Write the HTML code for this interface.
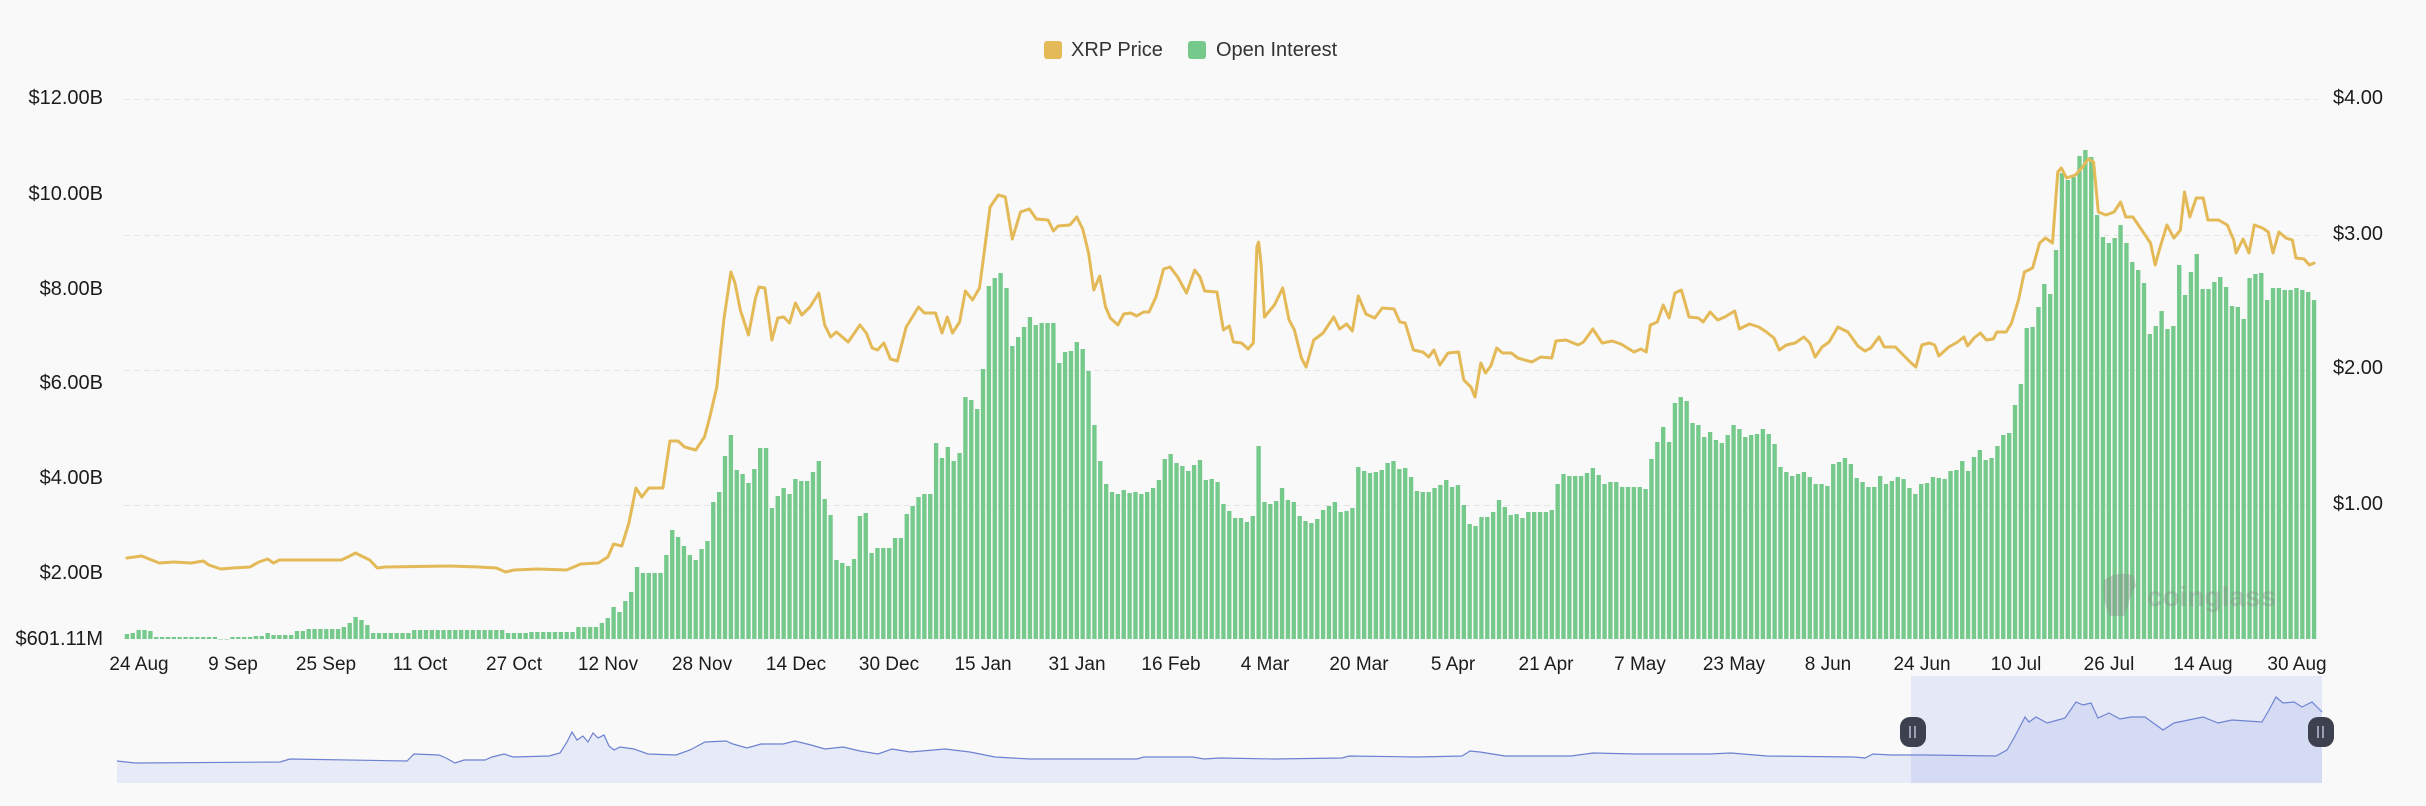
<!DOCTYPE html>
<html><head><meta charset="utf-8"><style>
html,body{margin:0;padding:0;background:#f9f9f9;}
svg{display:block;}
text{font-family:"Liberation Sans",Arial,sans-serif;}
</style></head><body>
<svg id="c" width="2426" height="806" viewBox="0 0 2426 806" xmlns="http://www.w3.org/2000/svg">
<rect x="0" y="0" width="2426" height="806" fill="#f9f9f9"/>
<g stroke="#e4e4e4" stroke-width="1" stroke-dasharray="6 4">
<line x1="124" y1="99.5" x2="2317" y2="99.5"/>
<line x1="124" y1="235.5" x2="2317" y2="235.5"/>
<line x1="124" y1="370.5" x2="2317" y2="370.5"/>
<line x1="124" y1="505.5" x2="2317" y2="505.5"/>
</g>
<g id="bars" fill="#74c98b"></g>
<g opacity="0.35">
<path d="M2104 580 q14 -10 30 -4 l2 10 q-6 8 -8 20 l-4 10 h-14 q-8 -14 -6 -36z" fill="#8a8a8a"/>
<text x="2147" y="606" font-size="28" font-weight="bold" fill="#8a8a8a">coinglass</text>
</g>
<polyline id="price" fill="none" stroke="#e4b957" stroke-width="3" stroke-linejoin="round" stroke-linecap="round" points=""/>
<g font-size="20" fill="#1c1c1c" text-anchor="end">
<text x="103" y="104">$12.00B</text>
<text x="103" y="200">$10.00B</text>
<text x="103" y="295">$8.00B</text>
<text x="103" y="389">$6.00B</text>
<text x="103" y="484">$4.00B</text>
<text x="103" y="579">$2.00B</text>
<text x="103" y="645">$601.11M</text>
</g>
<g font-size="20" fill="#1c1c1c">
<text x="2333" y="104">$4.00</text>
<text x="2333" y="240">$3.00</text>
<text x="2333" y="374">$2.00</text>
<text x="2333" y="510">$1.00</text>
</g>
<g font-size="19" fill="#1c1c1c" text-anchor="middle">
<text x="139" y="670">24 Aug</text>
<text x="233" y="670">9 Sep</text>
<text x="326" y="670">25 Sep</text>
<text x="420" y="670">11 Oct</text>
<text x="514" y="670">27 Oct</text>
<text x="608" y="670">12 Nov</text>
<text x="702" y="670">28 Nov</text>
<text x="796" y="670">14 Dec</text>
<text x="889" y="670">30 Dec</text>
<text x="983" y="670">15 Jan</text>
<text x="1077" y="670">31 Jan</text>
<text x="1171" y="670">16 Feb</text>
<text x="1265" y="670">4 Mar</text>
<text x="1359" y="670">20 Mar</text>
<text x="1453" y="670">5 Apr</text>
<text x="1546" y="670">21 Apr</text>
<text x="1640" y="670">7 May</text>
<text x="1734" y="670">23 May</text>
<text x="1828" y="670">8 Jun</text>
<text x="1922" y="670">24 Jun</text>
<text x="2016" y="670">10 Jul</text>
<text x="2109" y="670">26 Jul</text>
<text x="2203" y="670">14 Aug</text>
<text x="2297" y="670">30 Aug</text>
</g>
<rect x="1044" y="41" width="18" height="18" rx="3" fill="#e4b957"/>
<text x="1071" y="56" font-size="20" fill="#333">XRP Price</text>
<rect x="1188" y="41" width="18" height="18" rx="3" fill="#74c98b"/>
<text x="1216" y="56" font-size="20" fill="#333">Open Interest</text>
<polygon id="navfill" fill="#e7eaf7" points=""/>
<polyline id="navline" fill="none" stroke="#6c82d0" stroke-width="1.2" points=""/>
<rect x="1911" y="676" width="411" height="107" fill="#7d92e6" fill-opacity="0.16"/>
<g>
<rect x="1900" y="717" width="26" height="30" rx="10" fill="#3c404f"/>
<rect x="1909" y="726" width="2" height="12" fill="#9aa0b3"/>
<rect x="1914" y="726" width="2" height="12" fill="#9aa0b3"/>
<rect x="2308" y="717" width="26" height="30" rx="10" fill="#3c404f"/>
<rect x="2317" y="726" width="2" height="12" fill="#9aa0b3"/>
<rect x="2322" y="726" width="2" height="12" fill="#9aa0b3"/>
</g>
</svg>
<script>
(function(){
var N=374, X0=124, CW=(2317-124)/374, BASE=639;
var oi=[0,634,1,633,2,630,3,630,4,631,5,637,15,637,16,639,17,639,18,637,21,637,22,636,23,636,24,633,25,635,28,635,29,631,30,631,31,629,36,629,37,627,38,623,39,617,40,620,41,625,42,633,48,633,49,630,64,630,65,633,68,633,69,632,76,632,77,627,80,627,81,623,82,618,83,607,84,612,85,601,86,592,87,567,88,573,91,573,92,555,93,530,94,537,95,546,96,555,97,560,98,549,99,541,100,502,101,492,102,456,103,435,104,470,105,474,106,483,107,469,108,448,109,448,110,508,111,496,112,488,113,494,114,479,115,481,116,481,117,472,118,461,119,499,120,515,121,560,122,563,123,566,124,559,125,516,126,513,127,553,128,548,130,548,131,538,132,538,133,514,134,506,135,497,136,494,137,494,138,443,139,458,140,447,141,461,142,453,143,397,144,400,145,409,146,369,147,286,148,278,149,273,150,288,151,346,152,337,153,327,154,317,155,325,156,323,158,323,159,363,160,352,161,351,162,342,163,349,164,371,165,425,166,461,167,484,168,492,169,494,170,490,171,493,172,492,173,494,174,492,175,488,176,480,177,459,178,454,179,463,180,466,181,471,182,465,183,460,184,480,185,479,186,482,187,504,188,511,189,518,190,518,191,522,192,516,193,446,194,502,195,504,196,501,197,488,198,500,199,502,200,516,201,521,202,523,203,519,204,510,205,506,206,502,207,512,208,511,209,508,210,467,211,471,212,473,213,472,214,470,215,463,216,461,217,469,218,468,219,477,220,491,221,492,222,492,223,488,224,485,225,480,226,487,227,485,228,505,229,524,230,526,231,517,232,517,233,512,234,500,235,507,236,515,237,514,238,518,239,512,242,512,243,510,244,484,245,474,246,476,248,476,249,473,250,468,251,475,252,484,253,482,254,482,255,487,258,487,259,489,260,459,261,442,262,427,263,442,264,403,265,397,266,401,267,423,268,425,269,437,270,432,271,440,272,443,273,435,274,425,275,429,276,437,277,435,278,434,279,429,280,434,281,444,282,467,283,472,284,476,285,474,286,472,287,477,288,484,289,484,290,486,291,464,292,462,293,458,294,464,295,478,296,482,297,487,298,487,299,476,300,484,301,481,302,477,303,479,304,488,305,494,306,484,307,483,308,477,309,478,310,479,311,471,312,470,313,461,314,471,315,457,316,450,317,460,318,458,319,446,320,435,321,433,322,405,323,384,324,328,325,327,326,307,327,284,328,294,329,250,330,173,331,180,332,177,333,156,334,150,335,157,336,215,337,237,338,243,339,238,340,225,341,243,342,262,343,270,344,283,345,334,346,326,347,311,348,329,349,326,350,265,351,295,352,272,353,254,354,289,355,289,356,282,357,277,358,287,359,306,360,307,361,319,362,278,363,274,364,273,365,300,366,288,367,288,368,290,369,290,370,288,371,290,372,292,373,300];
var pr=[0,558,2.5,556,5.5,563,8,562,11,563,13,561,14,565,16,569,18,568,21,567,22.5,562,24,559,25,563,26,560,36.6,560,38,556,39,553,40,556,41.4,560,42.7,568,44,567,55,566,60,567,63,568,64.6,572,66,570,70,569,75,570,77.4,564,80.4,563,82,557,83,544,84.4,546,85.6,523,86.8,488,87.8,497,89,488,91.4,488,92.6,441,94,441,95.1,447,97,450,98.5,437,99.4,417,100.6,387,101.8,320,103,272,103.7,283,104.6,310,106,335,107.2,298,107.8,287,108.8,288,110,340,111,318,112,317,113,323,114,303,115.1,315,116.5,307,118,293,119,325,120,337,121,332,123,342,125,325,126.1,333,127.1,348,128,350,129.1,343,130.2,359,131.4,361,132.9,327,135,307,136,313,137.9,313,139,333,139.9,317,140.8,333,142,322,143,291,144.2,300,145.4,288,146.4,243,147.2,207,148.6,195,149.8,197,151,239,152.4,212,153.9,209,155.1,219,157.1,220,158,231,158.8,226,160.8,225,162,217,163,229,164,253,164.9,290,165.9,276,166.9,307,167.7,318,169,325,170,314,171.2,313,172.2,316,173.4,312,174.3,312,175.5,297,176.8,269,177.9,267,179.2,277,180.7,293,182.1,270,183,277,183.8,291,185.9,292,187,330,188,326,188.7,342,190.1,343,191.2,349,192.1,343,192.7,247,193,242,193.4,263,194,317,195.7,305,197.1,288,198.2,320,199.1,330,200.3,358,201.1,367,202.4,340,204,333,205.8,317,206.8,329,208,324,209,331,210,296,211.3,314,212.8,318,214.1,308,216.1,309,217.1,322,218,323,219.4,350,221,352,222,357,222.9,350,223.9,365,225.3,353,227.1,352,228,380,229.2,387,229.9,397,230.9,363,231.7,373,232.6,366,233.6,348,234.6,353,236.1,353,237.2,358,239.6,362,241.1,357,243,358,243.7,341,245.4,340,247.5,345,248.4,342,250,329,251.6,343,253.3,341,254.8,344,257,352,258.2,349,259.1,352,259.8,325,261,322,262,305,263,318,264,293,265.1,290,266.4,317,268,318,268.8,322,270,312,271.3,320,272.5,317,274.2,311,275,329,276.7,324,278.3,327,279.6,332,280.9,338,281.8,350,283,345,284.5,343,286,337,287,343,287.9,357,289.1,347,290.3,342,291.8,327,293.5,332,295.2,346,296.4,351,297.4,348,298.8,337,299.7,347,301.6,347,303.1,356,304.3,363,305.1,367,306.1,345,307.4,343,308.3,345,309,356,310.7,347,312.2,342,313.3,337,313.9,346,315,338,316.1,333,317.1,340,318.3,339,318.9,332,320.5,332,321.4,323,322.6,300,323.6,272,325,268,326.2,243,327.2,238,328.4,243,329.3,172,329.9,168,330.8,178,332.3,175,333.5,167,334.5,159,335.4,162,336.2,212,337.5,215,338.9,212,340,202,340.9,217,342.1,217,343.6,230,345.1,243,345.9,265,346.6,250,347.9,225,349.1,238,350.2,230,350.9,192,351.8,217,352.9,198,354.1,198,354.9,220,356.7,220,358.2,225,359.3,240,359.7,253,360.9,239,361.9,253,362.8,225,364.2,228,365.2,232,366,253,367,232,368.2,238,369.3,240,369.9,258,371.3,259,372.2,265,373,263];
var nav=[117,761,135,763,280,762,290,759,407,761,414,754,439,755,446,758,455,763,464,760,485,760,492,757,504,754,513,757,549,756,560,753,567,742,572,732,577,740,583,736,588,742,593,733,598,738,604,735,609,746,614,750,620,747,634,749,648,754,676,755,690,750,705,742,726,741,733,744,747,748,761,744,783,744,795,741,811,745,825,749,843,747,860,751,878,754,892,749,910,752,945,749,970,752,995,757,1030,759,1066,759,1137,759,1144,757,1193,757,1204,759,1220,758,1273,759,1342,758,1349,756,1418,757,1462,756,1470,751,1480,752,1505,756,1571,756,1593,753,1636,754,1709,754,1731,753,1767,756,1854,757,1865,758,1873,754,1891,755,1927,755,1996,756,2007,750,2014,738,2025,717,2029,722,2036,717,2047,723,2058,720,2065,718,2076,702,2083,705,2091,703,2098,718,2109,713,2120,719,2131,717,2145,717,2163,730,2174,723,2203,717,2218,723,2232,720,2262,722,2269,710,2276,697,2283,703,2294,702,2302,707,2312,702,2322,712];
var ns="http://www.w3.org/2000/svg";
function interp(a,i){
  for(var k=0;k<a.length-2;k+=2){
    if(i<=a[k+2]){var x0=a[k],y0=a[k+1],x1=a[k+2],y1=a[k+3];var t=(x1===x0)?0:(i-x0)/(x1-x0);if(t<0)t=0;if(t>1)t=1;return y0+(y1-y0)*t;}
  }
  return a[a.length-1];
}
var g=document.getElementById('bars');
for(var i=0;i<N;i++){
  var top=interp(oi,i);
  var r=document.createElementNS(ns,'rect');
  r.setAttribute('x',(X0+i*CW+0.75).toFixed(2));
  r.setAttribute('y',top.toFixed(1));
  r.setAttribute('width','4.35');
  r.setAttribute('height',Math.max(0.5,BASE-top).toFixed(1));
  g.appendChild(r);
}
var pts=[];
for(var k=0;k<pr.length;k+=2){pts.push((X0+(pr[k]+0.5)*CW).toFixed(1)+','+pr[k+1]);}
document.getElementById('price').setAttribute('points',pts.join(' '));
var np=[];for(var k=0;k<nav.length;k+=2){np.push(nav[k]+','+nav[k+1]);}
document.getElementById('navline').setAttribute('points',np.join(' '));
document.getElementById('navfill').setAttribute('points','117,783 '+np.join(' ')+' 2322,783');
})();
</script>
</body></html>
